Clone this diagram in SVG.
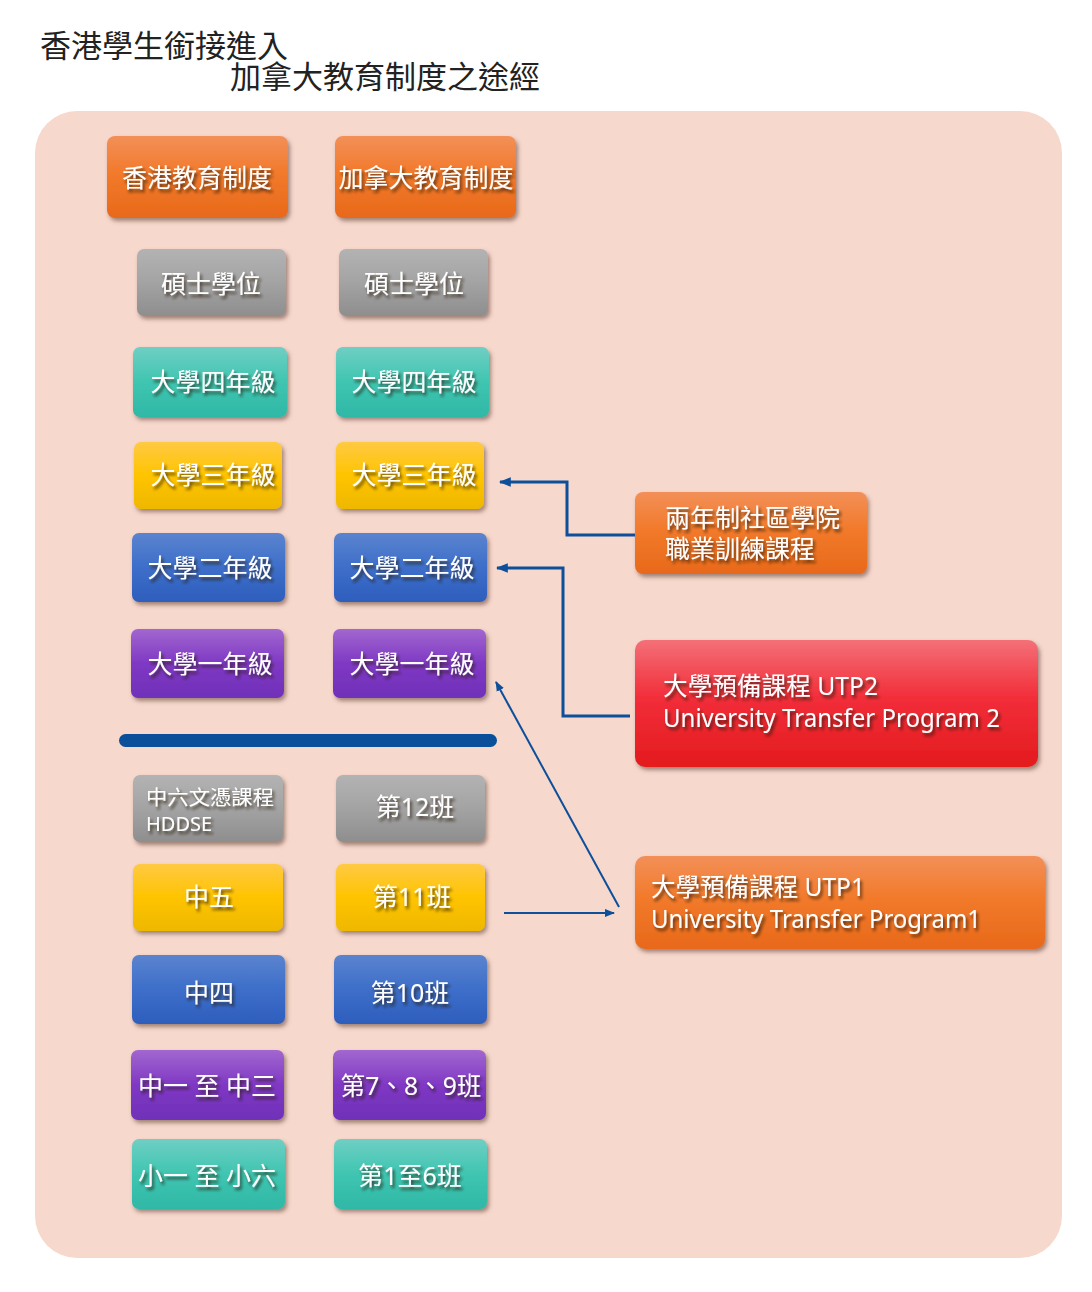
<svg xmlns="http://www.w3.org/2000/svg" width="1092" height="1292" viewBox="0 0 1092 1292">
<defs>
  <linearGradient id="gOrange" x1="0" y1="0" x2="0" y2="1">
    <stop offset="0" stop-color="#f29058"/><stop offset="0.45" stop-color="#f27a2b"/><stop offset="1" stop-color="#e8691a"/>
  </linearGradient>
  <linearGradient id="gGray" x1="0" y1="0" x2="0" y2="1">
    <stop offset="0" stop-color="#b3b3b3"/><stop offset="0.5" stop-color="#a3a3a3"/><stop offset="1" stop-color="#8e8e8e"/>
  </linearGradient>
  <linearGradient id="gTeal" x1="0" y1="0" x2="0" y2="1">
    <stop offset="0" stop-color="#6fcfc4"/><stop offset="0.5" stop-color="#3fc5b1"/><stop offset="1" stop-color="#2fb8a6"/>
  </linearGradient>
  <linearGradient id="gYellow" x1="0" y1="0" x2="0" y2="1">
    <stop offset="0" stop-color="#ffc943"/><stop offset="0.5" stop-color="#ffc400"/><stop offset="1" stop-color="#eeb800"/>
  </linearGradient>
  <linearGradient id="gBlue" x1="0" y1="0" x2="0" y2="1">
    <stop offset="0" stop-color="#5b84cf"/><stop offset="0.5" stop-color="#3d6ec9"/><stop offset="1" stop-color="#2e5ebd"/>
  </linearGradient>
  <linearGradient id="gPurple" x1="0" y1="0" x2="0" y2="1">
    <stop offset="0" stop-color="#a267cf"/><stop offset="0.5" stop-color="#7f38c4"/><stop offset="1" stop-color="#7030b8"/>
  </linearGradient>
  <linearGradient id="gRed" x1="0" y1="0" x2="0" y2="1">
    <stop offset="0" stop-color="#f47078"/><stop offset="0.45" stop-color="#f22e3a"/><stop offset="1" stop-color="#e31b1e"/>
  </linearGradient>
  <filter id="boxShadow" x="-10%" y="-10%" width="125%" height="135%">
    <feDropShadow dx="2" dy="3" stdDeviation="2" flood-color="#5a3a30" flood-opacity="0.55"/>
  </filter>
  <filter id="textShadow" x="-10%" y="-20%" width="125%" height="160%">
    <feDropShadow dx="2" dy="3" stdDeviation="1.5" flood-color="#2a1a10" flood-opacity="0.75"/>
  </filter>
  <marker id="arrow" viewBox="0 0 10 10" refX="9" refY="5" markerWidth="4" markerHeight="4" orient="auto-start-reverse" markerUnits="strokeWidth">
    <path d="M0,1 L10,5 L0,9 Z" fill="#0d4f9a"/>
  </marker>
  <marker id="arrowThin" viewBox="0 0 10 10" refX="9" refY="5" markerWidth="5" markerHeight="5" orient="auto-start-reverse" markerUnits="strokeWidth">
    <path d="M0,1 L10,5 L0,9 Z" fill="#0d4f9a"/>
  </marker>
</defs>
<style>
  .title { font-family: "Noto Sans CJK TC", "Noto Sans CJK SC", sans-serif; font-size: 31px; fill: #222; }
  .box { filter: url(#boxShadow); }
  .lbl { font-family: "Noto Sans", "Noto Sans CJK TC", sans-serif; font-size: 25px; fill: #ffffff; text-anchor: middle; filter: url(#textShadow); }
  .lblL { font-family: "Noto Sans", "Noto Sans CJK TC", sans-serif; font-size: 25px; fill: #ffffff; filter: url(#textShadow); }
  .small { font-size: 20px; }
  .conn { fill: none; stroke: #0d4f9a; stroke-width: 3; }
  .connThin { fill: none; stroke: #0d4f9a; stroke-width: 2; }
</style>

<rect width="1092" height="1292" fill="#ffffff"/>
<text class="title" x="40" y="57">香港學生銜接進入</text>
<text class="title" x="230" y="88">加拿大教育制度之途經</text>

<rect id="panel" x="35" y="111" width="1027" height="1147" rx="42" fill="#f7d8cd"/>

<!-- Header row -->
<g id="hk-system"><rect class="box" x="107" y="136" width="181" height="82" rx="8" fill="url(#gOrange)"/><text class="lbl" x="197" y="187">香港教育制度</text></g>
<g id="ca-system"><rect class="box" x="335" y="136" width="181" height="82" rx="8" fill="url(#gOrange)"/><text class="lbl" x="426" y="187">加拿大教育制度</text></g>

<g id="hk-master"><rect class="box" x="137" y="249" width="149" height="67" rx="7" fill="url(#gGray)"/><text class="lbl" x="211" y="293">碩士學位</text></g>
<g id="ca-master"><rect class="box" x="339" y="249" width="149" height="67" rx="7" fill="url(#gGray)"/><text class="lbl" x="414" y="293">碩士學位</text></g>

<g id="hk-y4"><rect class="box" x="133" y="347" width="154" height="70" rx="7" fill="url(#gTeal)"/><text class="lbl" x="213" y="391">大學四年級</text></g>
<g id="ca-y4"><rect class="box" x="336" y="347" width="153" height="70" rx="7" fill="url(#gTeal)"/><text class="lbl" x="414" y="391">大學四年級</text></g>

<g id="hk-y3"><rect class="box" x="134" y="442" width="148" height="67" rx="7" fill="url(#gYellow)"/><text class="lbl" x="213" y="484">大學三年級</text></g>
<g id="ca-y3"><rect class="box" x="336" y="442" width="148" height="67" rx="7" fill="url(#gYellow)"/><text class="lbl" x="414" y="484">大學三年級</text></g>

<g id="hk-y2"><rect class="box" x="132" y="533" width="153" height="69" rx="7" fill="url(#gBlue)"/><text class="lbl" x="210" y="577">大學二年級</text></g>
<g id="ca-y2"><rect class="box" x="334" y="533" width="153" height="69" rx="7" fill="url(#gBlue)"/><text class="lbl" x="412" y="577">大學二年級</text></g>

<g id="hk-y1"><rect class="box" x="131" y="629" width="153" height="69" rx="7" fill="url(#gPurple)"/><text class="lbl" x="210" y="673">大學一年級</text></g>
<g id="ca-y1"><rect class="box" x="333" y="629" width="153" height="69" rx="7" fill="url(#gPurple)"/><text class="lbl" x="412" y="673">大學一年級</text></g>

<g id="divider"><rect x="119" y="734" width="378" height="13" rx="6.5" fill="#0a4f99"/></g>

<g id="hk-f6"><rect class="box" x="133" y="775" width="150" height="67" rx="7" fill="url(#gGray)"/><text class="lblL small" x="146" y="805" textLength="128" lengthAdjust="spacingAndGlyphs">中六文憑課程</text><text class="lblL small" x="146" y="831">HDDSE</text></g>
<g id="ca-g12"><rect class="box" x="336" y="775" width="149" height="67" rx="7" fill="url(#gGray)"/><text class="lbl" x="415" y="816">第12班</text></g>

<g id="hk-f5"><rect class="box" x="133" y="864" width="150" height="67" rx="7" fill="url(#gYellow)"/><text class="lbl" x="209" y="906">中五</text></g>
<g id="ca-g11"><rect class="box" x="336" y="864" width="149" height="67" rx="7" fill="url(#gYellow)"/><text class="lbl" x="412" y="906">第11班</text></g>

<g id="hk-f4"><rect class="box" x="132" y="955" width="153" height="69" rx="7" fill="url(#gBlue)"/><text class="lbl" x="209" y="1002">中四</text></g>
<g id="ca-g10"><rect class="box" x="334" y="955" width="153" height="69" rx="7" fill="url(#gBlue)"/><text class="lbl" x="410" y="1002">第10班</text></g>

<g id="hk-f1-3"><rect class="box" x="131" y="1050" width="153" height="70" rx="7" fill="url(#gPurple)"/><text class="lbl" x="207" y="1095">中一 至 中三</text></g>
<g id="ca-g7-9"><rect class="box" x="333" y="1050" width="153" height="70" rx="7" fill="url(#gPurple)"/><text class="lbl" x="411" y="1095" textLength="141" lengthAdjust="spacingAndGlyphs">第7、8、9班</text></g>

<g id="hk-p1-6"><rect class="box" x="132" y="1139" width="153" height="70" rx="7" fill="url(#gTeal)"/><text class="lbl" x="207" y="1185">小一 至 小六</text></g>
<g id="ca-g1-6"><rect class="box" x="334" y="1139" width="153" height="70" rx="7" fill="url(#gTeal)"/><text class="lbl" x="410" y="1185">第1至6班</text></g>

<!-- Right side pathway boxes -->
<g id="community-college"><rect class="box" x="635" y="492" width="232" height="82" rx="8" fill="url(#gOrange)"/><text class="lblL" x="665" y="527">兩年制社區學院</text><text class="lblL" x="665" y="558">職業訓練課程</text></g>
<g id="utp2"><rect class="box" x="635" y="640" width="403" height="127" rx="10" fill="url(#gRed)"/><text class="lblL" x="663" y="695" textLength="215" lengthAdjust="spacingAndGlyphs">大學預備課程 UTP2</text><text class="lblL" x="663" y="727" textLength="337" lengthAdjust="spacingAndGlyphs">University Transfer Program 2</text></g>
<g id="utp1"><rect class="box" x="635" y="856" width="410" height="93" rx="10" fill="url(#gOrange)"/><text class="lblL" x="651" y="896" textLength="214" lengthAdjust="spacingAndGlyphs">大學預備課程 UTP1</text><text class="lblL" x="651" y="928" textLength="330" lengthAdjust="spacingAndGlyphs">University Transfer Program1</text></g>

<!-- Connectors -->
<g id="connectors">
  <path class="conn" d="M635,535 H567 V482 H500" marker-end="url(#arrow)"/>
  <path class="conn" d="M630,716 H563 V568 H497" marker-end="url(#arrow)"/>
  <path class="connThin" d="M619,907 L496,682" marker-end="url(#arrowThin)"/>
  <path class="connThin" d="M504,913 H614" marker-end="url(#arrowThin)"/>
</g>
</svg>
